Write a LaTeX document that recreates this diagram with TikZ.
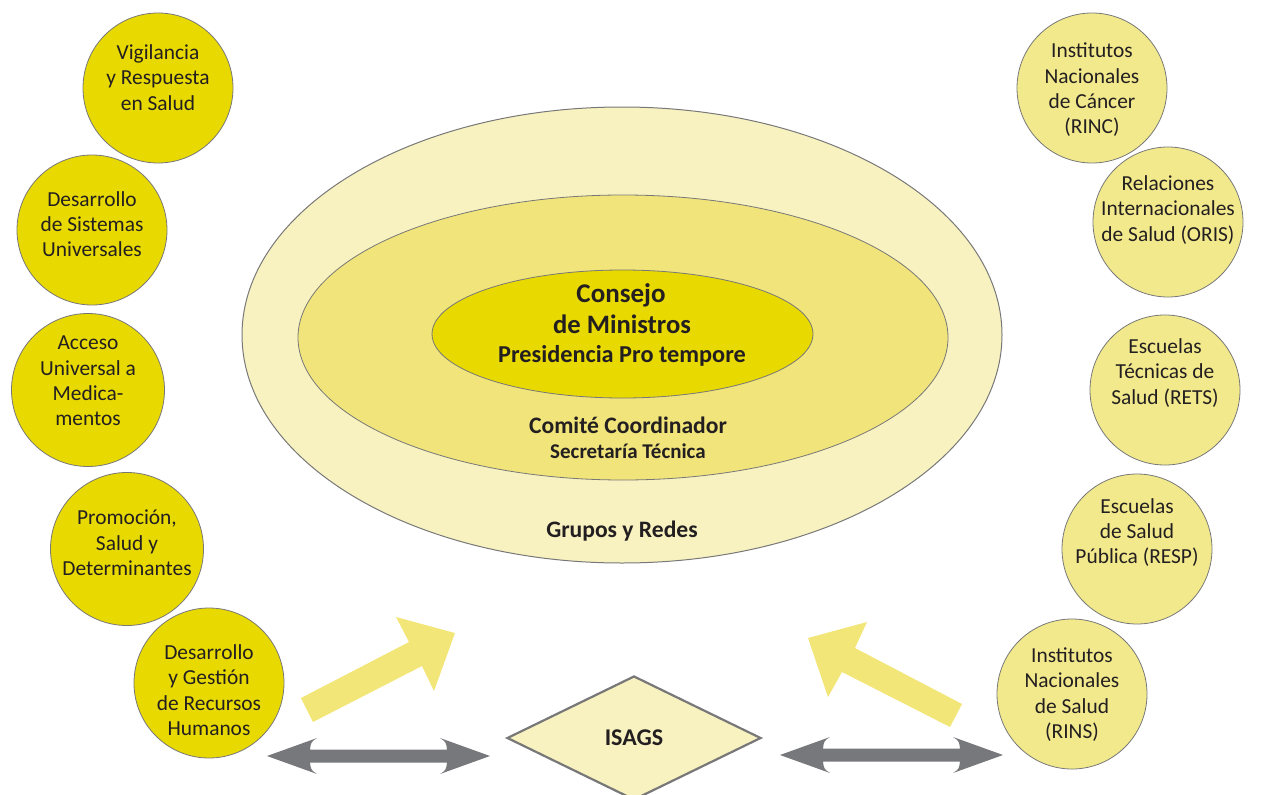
\documentclass[tikz,border=0pt]{standalone}
\usepackage{fontspec}
\setmainfont{Carlito}
\usetikzlibrary{shapes.geometric}
\definecolor{darkyel}{RGB}{232,217,0}
\definecolor{midyel}{RGB}{240,228,122}
\definecolor{lightyel}{RGB}{242,233,140}
\definecolor{paleyel}{RGB}{248,242,192}
\definecolor{arrowyel}{RGB}{242,230,120}
\definecolor{bgray}{RGB}{120,120,120}
\definecolor{agray}{RGB}{119,120,123}
\definecolor{txt}{RGB}{35,31,32}
\begin{document}
\begin{tikzpicture}[x=1pt,y=-1pt,
  circ/.style={circle, draw=bgray, line width=0.8pt, minimum size=150pt, inner sep=0pt},
  lcirc/.style={circ, fill=darkyel},
  rcirc/.style={circ, fill=lightyel},
  ctext/.style={align=center, text=txt, inner sep=0pt, font=\fontsize{21.4}{25.3}\selectfont},
  ell/.style={ellipse, draw=bgray, line width=0.8pt, inner sep=0pt},
  btext/.style={text=txt, inner sep=0pt, anchor=base},
  yarrow/.style={fill=arrowyel},
  garrow/.style={fill=agray}]
\useasboundingbox (0,0) rectangle (1261,795);

% ellipses
\node[ell, fill=paleyel, line width=1pt, minimum width=760pt, minimum height=456pt] (outer) at (622,335) {};
\node[ell, fill=midyel, minimum width=650pt, minimum height=285pt] (middle) at (623,337.5) {};
\node[ell, fill=darkyel, minimum width=381pt, minimum height=128pt] (inner) at (622.5,334) {};

\node[btext, font=\bfseries\fontsize{27}{30}\selectfont] (consejo) at (621,302) {Consejo};
\node[btext, font=\bfseries\fontsize{26.6}{30}\selectfont] (ministros) at (622,333) {de Ministros};
\node[btext, font=\bfseries\fontsize{24.3}{26}\selectfont] (ppt) at (622,362) {Presidencia Pro tempore};
\node[btext, font=\bfseries\fontsize{23.6}{26}\selectfont] (comite) at (628,433) {Comité Coordinador};
\node[btext, font=\bfseries\fontsize{21}{22}\selectfont] (secre) at (628,458) {Secretaría Técnica};
\node[btext, font=\bfseries\fontsize{23.6}{25}\selectfont] (grupos) at (622,537) {Grupos y Redes};

% left circles
\node[lcirc] (l1) at (158,88) {};
\node[lcirc] (l2) at (92,230) {};
\node[lcirc, minimum size=153pt] (l3) at (88,390) {};
\node[lcirc, minimum size=153pt] (l4) at (127,549) {};
\node[lcirc] (l5) at (209,683) {};
\node[ctext] (tl1) at (158,77.5) {Vigilancia\\y Respuesta\\en Salud};
\node[ctext] (tl2) at (92,224) {Desarrollo\\de Sistemas\\Universales};
\node[ctext] (tl3) at (88,381) {Acceso\\Universal a\\Medica-\\mentos};
\node[ctext] (tl4) at (127,543) {Promoción,\\Salud y\\Determinantes};
\node[ctext] (tl5) at (209,690) {Desarrollo\\y Gestión\\de Recursos\\Humanos};

% right circles
\node[rcirc] (r1) at (1092,88) {};
\node[rcirc] (r2) at (1168,222) {};
\node[rcirc] (r3) at (1165,390) {};
\node[rcirc] (r4) at (1137,549) {};
\node[rcirc] (r5) at (1072,694) {};
\node[ctext] (tr1) at (1092,90) {Institutos\\Nacionales\\de Cáncer\\(RINC)};
\node[ctext] (tr2) at (1168,210) {Relaciones\\Internacionales\\de Salud (ORIS)};
\node[ctext] (tr3) at (1165,373) {Escuelas\\Técnicas de\\Salud (RETS)};
\node[ctext] (tr4) at (1137,532.5) {Escuelas\\de Salud\\Pública (RESP)};
\node[ctext] (tr5) at (1072,694.5) {Institutos\\Nacionales\\de Salud\\(RINS)};

% diamond
\node[diamond, draw=bgray, line width=2.2pt, fill=paleyel, minimum width=254pt, minimum height=124pt, inner sep=0pt,
      text=txt, font=\bfseries\fontsize{24}{25}\selectfont] (isags) at (634,738) {ISAGS};

% yellow arrows
\fill[yarrow] (301,698) -- (409,642) -- (396,617) -- (455,633) -- (434,691) -- (422,666) -- (313,722) -- cycle;
\fill[yarrow] (962,704) -- (855,648) -- (867,622) -- (808,638) -- (828,697) -- (842,672) -- (950,727) -- cycle;

% gray double arrows
\fill[garrow] (267,756) -- (317,738) .. controls (311,742) .. (310,749.5) -- (447,749.5)
  .. controls (446,742) .. (440,738) -- (490,756) -- (440,774) .. controls (446,770) .. (447,762.5)
  -- (310,762.5) .. controls (311,770) .. (317,774) -- cycle;
\fill[garrow] (780,755) -- (830,737) .. controls (824,741) .. (823,748.5) -- (960,748.5)
  .. controls (959,741) .. (953,737) -- (1003,755) -- (953,773) .. controls (959,769) .. (960,761.5)
  -- (823,761.5) .. controls (824,769) .. (830,773) -- cycle;
\end{tikzpicture}
\end{document}
